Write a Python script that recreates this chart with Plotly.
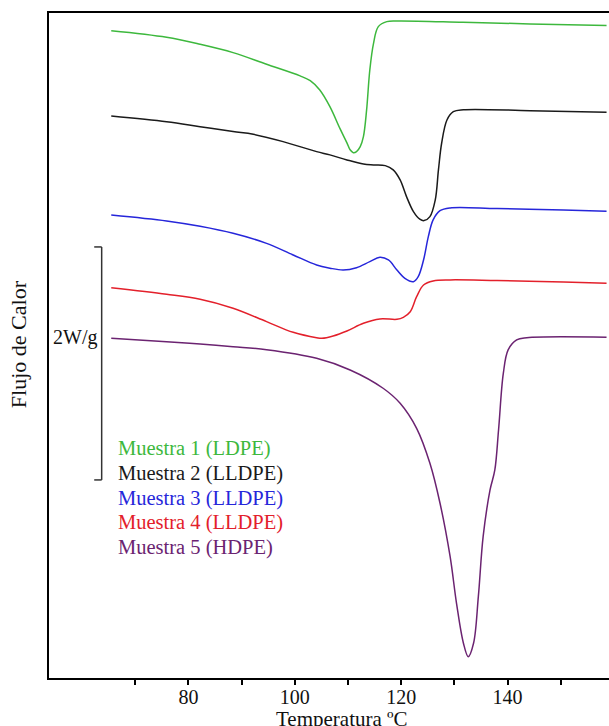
import plotly.graph_objects as go

FONT = "Liberation Serif, Times New Roman, serif"

# ---- data (Temperatura in C, heat flow in W/g with vertical offsets) ----
temp_m1 = [65.5, 75.9, 82.2, 88.4, 94.7, 101.0, 102.9, 104.7, 106.6, 108.5, 109.8, 110.4, 111.0,
           111.6, 112.3, 112.9, 113.5, 114.1, 114.8, 115.7, 117.3, 119.2, 131.6, 144.2, 158.6]
flujo_m1 = [5.556, 5.500, 5.440, 5.368, 5.268, 5.168, 5.127, 5.047, 4.904, 4.715, 4.593, 4.534,
            4.509, 4.518, 4.561, 4.647, 4.876, 5.219, 5.448, 5.591, 5.634, 5.640, 5.629, 5.614,
            5.600]

temp_m2 = [65.5, 75.9, 82.2, 88.4, 92.2, 97.8, 104.1, 106.6, 109.8, 112.9, 114.8, 117.0, 118.5,
           119.8, 121.0, 122.3, 123.5, 124.3, 125.4, 126.4, 127.0, 127.6, 128.6, 129.8, 131.7,
           144.2, 158.6]
flujo_m2 = [4.824, 4.775, 4.732, 4.690, 4.667, 4.604, 4.518, 4.490, 4.447, 4.412, 4.404, 4.398,
            4.361, 4.275, 4.132, 4.003, 3.938, 3.926, 3.960, 4.103, 4.361, 4.590, 4.790, 4.861,
            4.878, 4.870, 4.856]

temp_m3 = [65.5, 75.9, 82.2, 88.4, 94.7, 99.7, 104.1, 106.6, 109.1, 111.6, 114.1, 116.0, 117.6,
           119.2, 120.7, 122.3, 123.2, 124.2, 125.1, 126.0, 127.3, 129.2, 138.0, 150.5, 158.6]
flujo_m3 = [3.974, 3.923, 3.877, 3.817, 3.731, 3.631, 3.545, 3.518, 3.502, 3.522, 3.574, 3.611,
            3.588, 3.502, 3.431, 3.402, 3.445, 3.588, 3.788, 3.932, 4.011, 4.035, 4.029, 4.017,
            4.006]

temp_m4 = [65.5, 75.9, 82.2, 88.4, 94.7, 99.7, 104.1, 105.1, 107.2, 109.8, 112.9, 116.0, 119.2,
           120.4, 121.7, 122.9, 124.2, 126.0, 129.2, 138.0, 150.5, 158.6]
flujo_m4 = [3.350, 3.294, 3.251, 3.174, 3.059, 2.967, 2.921, 2.916, 2.936, 2.979, 3.045, 3.082,
            3.079, 3.096, 3.144, 3.273, 3.373, 3.408, 3.417, 3.411, 3.399, 3.388]

temp_m5 = [65.5, 75.9, 82.2, 88.4, 94.7, 104.1, 110.4, 116.6, 119.8, 122.9, 125.4, 127.3,
           129.2, 130.4, 131.7, 132.6, 133.6, 134.5, 135.4, 136.7, 137.6, 138.3, 139.2, 140.1,
           141.7, 143.6, 158.6]
flujo_m5 = [2.916, 2.887, 2.867, 2.844, 2.818, 2.744, 2.644, 2.487, 2.358, 2.143, 1.843,
            1.500, 1.041, 0.641, 0.298, 0.183, 0.298, 0.698, 1.213, 1.614, 1.786, 2.129, 2.616,
            2.816, 2.902, 2.921, 2.925]

nombres = ["Muestra 1 (LDPE)", "Muestra 2 (LLDPE)", "Muestra 3 (LLDPE)",
           "Muestra 4 (LLDPE)", "Muestra 5 (HDPE)"]
colores = ["#3DB83D", "#1A1A1A", "#2626DA", "#E3202B", "#6B2371"]

tick_vals = [70, 80, 90, 100, 110, 120, 130, 140, 150]
tick_text = ["", "80", "", "100", "", "120", "", "140", ""]

x_range = [53.8, 159.06]
y_range = [0.0, 5.708]

# scale bar (2 W/g)
escala_x = 63.7
escala_y0 = 1.70
escala_y1 = 3.70

series = [(temp_m1, flujo_m1), (temp_m2, flujo_m2), (temp_m3, flujo_m3),
          (temp_m4, flujo_m4), (temp_m5, flujo_m5)]

fig = go.Figure()
for (tx, fy), nm, c in zip(series, nombres, colores):
    fig.add_trace(go.Scatter(x=tx, y=fy, mode="lines", name=nm,
                             line=dict(color=c, width=1.5, shape="spline", smoothing=1.0),
                             showlegend=False, hoverinfo="skip"))

# legend as coloured text
leg_x = 66.3
leg_y = [1.966, 1.757, 1.543, 1.336, 1.118]
for nm, c, yy in zip(nombres, colores, leg_y):
    fig.add_annotation(x=leg_x, y=yy, xref="x", yref="y", text=nm, showarrow=False,
                       xanchor="left", yanchor="middle",
                       font=dict(family=FONT, size=20.5, color=c))

# scale bracket
bar_col = "#333333"
fig.add_shape(type="line", xref="x", yref="y", x0=escala_x, x1=escala_x,
              y0=escala_y0, y1=escala_y1, line=dict(color=bar_col, width=1.5))
for yy in (escala_y0, escala_y1):
    fig.add_shape(type="line", xref="x", yref="y", x0=escala_x - 1.4, x1=escala_x,
                  y0=yy, y1=yy, line=dict(color=bar_col, width=1.5))
fig.add_annotation(x=63.2, y=2.92, xref="x", yref="y", text="2W/g", showarrow=False,
                   xanchor="right", yanchor="middle",
                   font=dict(family=FONT, size=20, color="#111111"))

# axis titles
fig.add_annotation(x=108.9, y=-0.062, xref="x", yref="paper", text="Temperatura ºC",
                   showarrow=False, xanchor="center", yanchor="middle", borderpad=0,
                   font=dict(family=FONT, size=21, color="#111111"))
fig.add_annotation(x=-0.0554, y=0.502, xref="paper", yref="paper", text="Flujo de Calor",
                   showarrow=False, textangle=-90, xanchor="center", yanchor="middle",
                   font=dict(family=FONT, size=22, color="#111111"))

fig.update_layout(
    width=609, height=726,
    margin=dict(l=49, r=0, t=13, b=48),
    paper_bgcolor="white", plot_bgcolor="white",
    font=dict(family=FONT, color="#111111"),
    xaxis=dict(range=x_range, showline=True, linecolor="black", linewidth=2, mirror=True,
               ticks="outside", ticklen=5, tickwidth=1.5, tickcolor="black",
               tickvals=tick_vals, ticktext=tick_text, ticklabelstandoff=-5,
               tickfont=dict(family=FONT, size=20, color="#111111"),
               showgrid=False, zeroline=False, automargin=False),
    yaxis=dict(range=y_range, showline=True, linecolor="black", linewidth=2,
               showticklabels=False, ticks="", showgrid=False, zeroline=False,
               automargin=False),
)

fig.write_html("out.html")
